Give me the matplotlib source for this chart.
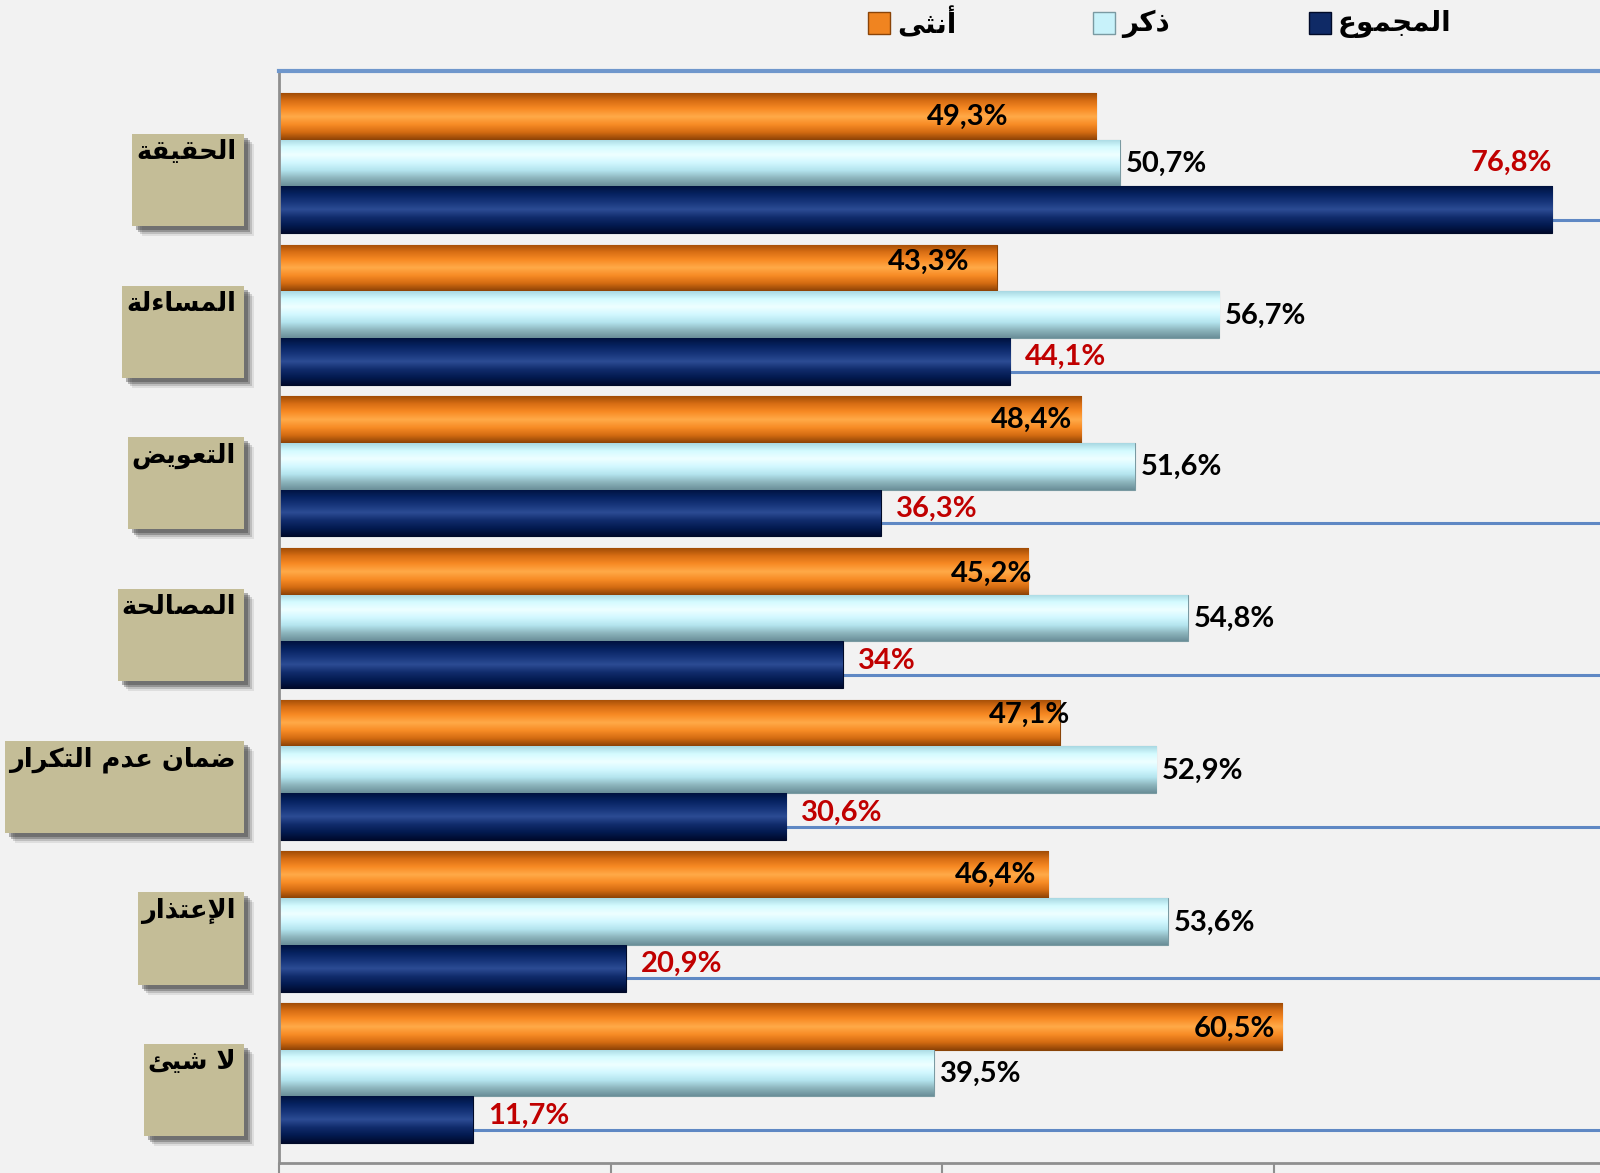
import numpy as np
import matplotlib
matplotlib.use("Agg")
import matplotlib.pyplot as plt
import matplotlib.transforms as mtransforms
from matplotlib.colors import LinearSegmentedColormap
from matplotlib.patches import Rectangle

# data
categories = ["الحقيقة", "المساءلة", "التعويض", "المصالحة", "ضمان عدم التكرار", "الإعتذار", "لا شيئ"]
female = [49.3, 43.3, 48.4, 45.2, 47.1, 46.4, 60.5]
male = [50.7, 56.7, 51.6, 54.8, 52.9, 53.6, 39.5]
total = [76.8, 44.1, 36.3, 34.0, 30.6, 20.9, 11.7]
series_names = ["أنثى", "ذكر", "المجموع"]

# label nudges for the female labels (pixels), as placed in the original
fem_dx = [-90, -30, -11, 2, 8, -14, -9]
fem_dy = [2, 9, 3, 0, 11, 3, 1]

W, H = 1600, 1173
BG = "#f2f2f2"
ARFONT = "DejaVu Sans"
NUMFONT = "Lato"

# tiny arabic shaper (matplotlib has no complex text layout)
_forms = {0x621: (0xFE80, 1), 0x622: (0xFE81, 2), 0x623: (0xFE83, 2), 0x625: (0xFE87, 2),
          0x626: (0xFE89, 4), 0x627: (0xFE8D, 2), 0x628: (0xFE8F, 4), 0x629: (0xFE93, 2),
          0x62A: (0xFE95, 4), 0x62B: (0xFE99, 4), 0x62C: (0xFE9D, 4), 0x62D: (0xFEA1, 4),
          0x62E: (0xFEA5, 4), 0x62F: (0xFEA9, 2), 0x630: (0xFEAB, 2), 0x631: (0xFEAD, 2),
          0x632: (0xFEAF, 2), 0x633: (0xFEB1, 4), 0x634: (0xFEB5, 4), 0x635: (0xFEB9, 4),
          0x636: (0xFEBD, 4), 0x637: (0xFEC1, 4), 0x638: (0xFEC5, 4), 0x639: (0xFEC9, 4),
          0x63A: (0xFECD, 4), 0x641: (0xFED1, 4), 0x642: (0xFED5, 4), 0x643: (0xFED9, 4),
          0x644: (0xFEDD, 4), 0x645: (0xFEE1, 4), 0x646: (0xFEE5, 4), 0x647: (0xFEE9, 4),
          0x648: (0xFEED, 2), 0x649: (0xFEEF, 2), 0x64A: (0xFEF1, 4)}
_lamalef = {0x622: 0xFEF5, 0x623: 0xFEF7, 0x625: 0xFEF9, 0x627: 0xFEFB}


def shape(txt):
    toks = []
    i = 0
    while i < len(txt):
        c = ord(txt[i])
        if c == 0x644 and i + 1 < len(txt) and ord(txt[i + 1]) in _lamalef:
            toks.append((_lamalef[ord(txt[i + 1])], 2))
            i += 2
            continue
        toks.append(_forms.get(c, (c, 0)))
        i += 1
    out = []
    for j, (base, n) in enumerate(toks):
        if n == 0:
            out.append(chr(base))
            continue
        prev = j > 0 and toks[j - 1][1] == 4
        nxt = n == 4 and j + 1 < len(toks) and toks[j + 1][1] >= 2
        if n == 1:
            f = 0
        elif prev and nxt:
            f = 3
        elif prev:
            f = 1
        elif nxt:
            f = 2
        else:
            f = 0
        out.append(chr(base + f))
    return "".join(reversed(out))


def fmt(v):
    s = ("%.1f" % v).replace(".", ",")
    if s.endswith(",0"):
        s = s[:-2]
    return s + "%"


grads = [
    ["#a04c06", "#d86e14", "#f88a24", "#ffaa48", "#f88c26", "#d46c12", "#8c4206"],
    ["#a8d8e2", "#d4fbff", "#eeffff", "#d2f8ff", "#b4e4ee", "#8cb4bc", "#6a8e98"],
    ["#00123e", "#062260", "#17357a", "#2c4c94", "#112c6c", "#031a50", "#000a2c"],
]
solid = ["#f08420", "#c8f2fa", "#0f2a66"]
edges = ["#8a4408", "#7a9aa2", "#000a28"]

fig = plt.figure(figsize=(W / 100, H / 100), dpi=100, facecolor=BG)
ax = fig.add_axes([279 / W, 10 / H, (W - 279) / W, 1092 / H])
ax.set_facecolor(BG)

xmax = (W - 279) / 16.58
ymax = 1092 / 151.7
ax.set_xlim(0, xmax)
ax.set_ylim(ymax, 0)

n = len(categories)
idx = np.arange(n)
bh = 0.308
centers = [0.298, 0.606, 0.914]

# gridlines under the bars
ax.hlines(idx + 0.982, 0, xmax, color="#5f88c4", lw=2.2, zorder=1)

grad = np.linspace(0, 1, 256).reshape(-1, 1)
for s, vals in enumerate([female, male, total]):
    cmap = LinearSegmentedColormap.from_list("g%d" % s, grads[s])
    bars = ax.barh(idx + centers[s], vals, height=bh, color=solid[s],
                   edgecolor=edges[s], linewidth=0.8, zorder=2)
    for b in bars:
        x0, y0 = b.get_x(), b.get_y()
        im = ax.imshow(grad, cmap=cmap, aspect="auto", origin="upper",
                       extent=(x0, x0 + b.get_width(), y0 + bh, y0), zorder=2.5)
        im.set_clip_path(b)

ax.set_xlim(0, xmax)
ax.set_ylim(ymax, 0)

# value labels
lab_kw = dict(fontsize=21, fontweight="bold", family=NUMFONT, textcoords="offset pixels", zorder=6)
for k in range(n):
    ax.annotate(fmt(female[k]), xy=(female[k], k + centers[0]),
                xytext=(2 + fem_dx[k], fem_dy[k] - 3), ha="right", va="center",
                color="black", **lab_kw)
    ax.annotate(fmt(male[k]), xy=(male[k], k + centers[1]), xytext=(6, -1),
                ha="left", va="center", color="black", **lab_kw)
    if total[k] > 70:
        ax.annotate(fmt(total[k]), xy=(total[k], k + centers[2] - bh / 2), xytext=(0, 15),
                    ha="right", va="baseline", color="#c00000", **lab_kw)
    else:
        ax.annotate(fmt(total[k]), xy=(total[k], k + centers[2]), xytext=(15, 4),
                    ha="left", va="center", color="#c00000", **lab_kw)

# axes styling
ax.spines["right"].set_visible(False)
ax.spines["top"].set_color("#6f97cc")
ax.spines["top"].set_linewidth(3)
ax.spines["left"].set_color("#8f8f8f")
ax.spines["left"].set_linewidth(2)
ax.spines["bottom"].set_color("#8f8f8f")
ax.spines["bottom"].set_linewidth(2)
ax.set_xticks([0, 20, 40, 60])
ax.set_xticklabels([])
ax.tick_params(axis="x", direction="out", length=9, width=1.5, color="#8f8f8f")
ax.set_yticks([])

# category label boxes
trans = mtransforms.blended_transform_factory(fig.transFigure, ax.transData)
texts = []
for k, c in enumerate(categories):
    t = ax.text(236 / W, k + 0.45, shape(c), transform=trans, ha="right", va="top",
                fontsize=18.5, fontweight="bold", family=ARFONT, color="black",
                clip_on=False, zorder=8)
    texts.append(t)

fig.canvas.draw()
rend = fig.canvas.get_renderer()
for k, t in enumerate(texts):
    bb = t.get_window_extent(rend)
    left = bb.x0 - 4
    wfrac = (244 - left) / W
    for d, a in [(10, 0.10), (8, 0.18), (6, 0.30), (4, 0.35)]:
        sh = Rectangle((left / W, k + 0.415), wfrac, 0.607, facecolor="#303030", alpha=a,
                       edgecolor="none", clip_on=False, zorder=6,
                       transform=mtransforms.offset_copy(trans, fig=fig, x=d, y=-d, units="dots"))
        ax.add_patch(sh)
    ax.add_patch(Rectangle((left / W, k + 0.415), wfrac, 0.607, facecolor="#c4bd97",
                           edgecolor="none", clip_on=False, zorder=7, transform=trans))

# legend drawn by hand, right to left order as in the original
leg_x = [868, 1093, 1309]
for s in range(3):
    fig.add_artist(Rectangle((leg_x[s], H - 22.5 - 11), 22, 22, facecolor=solid[s],
                             edgecolor=edges[s], linewidth=1,
                             transform=mtransforms.IdentityTransform()))
    fig.text((leg_x[s] + 29) / W, 1 - 24 / H, shape(series_names[s]), ha="left",
             va="center", fontsize=20, fontweight="bold", family=ARFONT, color="black")

fig.savefig("out.png", dpi=100, facecolor=BG)
